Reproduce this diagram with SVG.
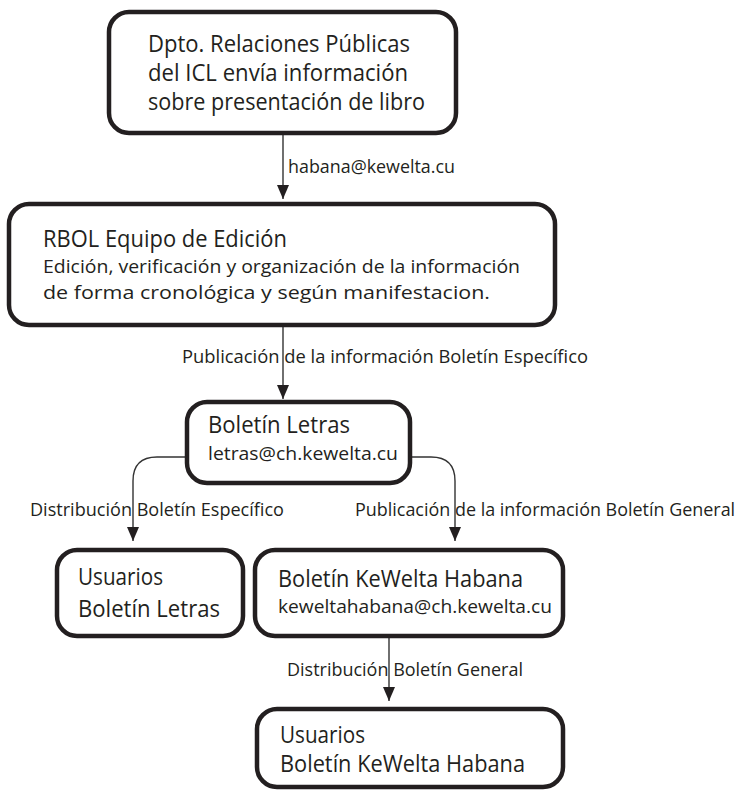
<svg xmlns="http://www.w3.org/2000/svg" width="743" height="792" viewBox="0 0 743 792">
<defs>
<style>
.box{fill:#fff;stroke:#231f20;stroke-width:4.5}
.t{font-family:"Open Sans","Liberation Sans",sans-serif;fill:#231f20}
.big{font-size:23.5px}
.sm{font-size:19px}
.lbl{font-size:19px}
.con{fill:none;stroke:#333;stroke-width:1.4}
</style>
<marker id="ah" viewBox="0 0 14 12" refX="14" refY="6" markerWidth="14" markerHeight="12" markerUnits="userSpaceOnUse" orient="auto">
<path d="M0,0 L14,6 L0,12 z" fill="#231f20"/>
</marker>
</defs>
<rect width="743" height="792" fill="#fff"/>

<g id="connectors">
<path class="con" d="M283,135 V199" marker-end="url(#ah)"/>
<path class="con" d="M283,327 V399" marker-end="url(#ah)"/>
<path class="con" d="M185,457 H157 Q133,457 133,481 V541" marker-end="url(#ah)"/>
<path class="con" d="M412,457 H431 Q455,457 455,481 V541" marker-end="url(#ah)"/>
<path class="con" d="M389,638 V701" marker-end="url(#ah)"/>
<text class="t lbl" x="288" y="173" textLength="167" lengthAdjust="spacingAndGlyphs">habana@kewelta.cu</text>
<text class="t lbl" x="182" y="363" textLength="406" lengthAdjust="spacingAndGlyphs">Publicación de la información Boletín Específico</text>
<text class="t lbl" x="30" y="516" textLength="254" lengthAdjust="spacingAndGlyphs">Distribución Boletín Específico</text>
<text class="t lbl" transform="translate(355 516) scale(0.88 1)" x="0" y="0" textLength="432" lengthAdjust="spacingAndGlyphs">Publicación de la información Boletín General</text>
<text class="t lbl" x="287" y="676" textLength="236" lengthAdjust="spacingAndGlyphs">Distribución Boletín General</text>
</g>

<g id="n1">
<rect class="box" x="109" y="12" width="347" height="121" rx="20"/>
<text class="t big" x="148" y="52" textLength="262" lengthAdjust="spacingAndGlyphs">Dpto. Relaciones Públicas</text>
<text class="t big" x="148" y="81" textLength="260" lengthAdjust="spacingAndGlyphs">del ICL envía información</text>
<text class="t big" x="148" y="110" textLength="277" lengthAdjust="spacingAndGlyphs">sobre presentación de libro</text>
</g>

<g id="n2">
<rect class="box" x="9" y="204" width="546" height="121" rx="20"/>
<text class="t big" x="43" y="247" textLength="244" lengthAdjust="spacingAndGlyphs">RBOL Equipo de Edición</text>
<text class="t sm" x="43" y="273" textLength="477" lengthAdjust="spacingAndGlyphs">Edición, verificación y organización de la información</text>
<text class="t sm" x="43" y="299" textLength="447" lengthAdjust="spacingAndGlyphs">de forma cronológica y según manifestacion.</text>
</g>

<g id="n3">
<rect class="box" x="187" y="402" width="223" height="81" rx="20"/>
<text class="t big" x="208" y="433" textLength="142" lengthAdjust="spacingAndGlyphs">Boletín Letras</text>
<text class="t sm" x="208" y="460" textLength="190" lengthAdjust="spacingAndGlyphs">letras@ch.kewelta.cu</text>
</g>

<g id="n4">
<rect class="box" x="57" y="550" width="186" height="86" rx="20"/>
<text class="t big" x="78" y="585" textLength="85" lengthAdjust="spacingAndGlyphs">Usuarios</text>
<text class="t big" x="78" y="617" textLength="142" lengthAdjust="spacingAndGlyphs">Boletín Letras</text>
</g>

<g id="n5">
<rect class="box" x="255" y="550" width="308" height="86" rx="20"/>
<text class="t big" x="278" y="587" textLength="245" lengthAdjust="spacingAndGlyphs">Boletín KeWelta Habana</text>
<text class="t sm" x="278" y="613" textLength="274" lengthAdjust="spacingAndGlyphs">keweltahabana@ch.kewelta.cu</text>
</g>

<g id="n6">
<rect class="box" x="257" y="709" width="306" height="78" rx="20"/>
<text class="t big" x="280" y="743" textLength="85" lengthAdjust="spacingAndGlyphs">Usuarios</text>
<text class="t big" x="280" y="772" textLength="245" lengthAdjust="spacingAndGlyphs">Boletín KeWelta Habana</text>
</g>
</svg>
